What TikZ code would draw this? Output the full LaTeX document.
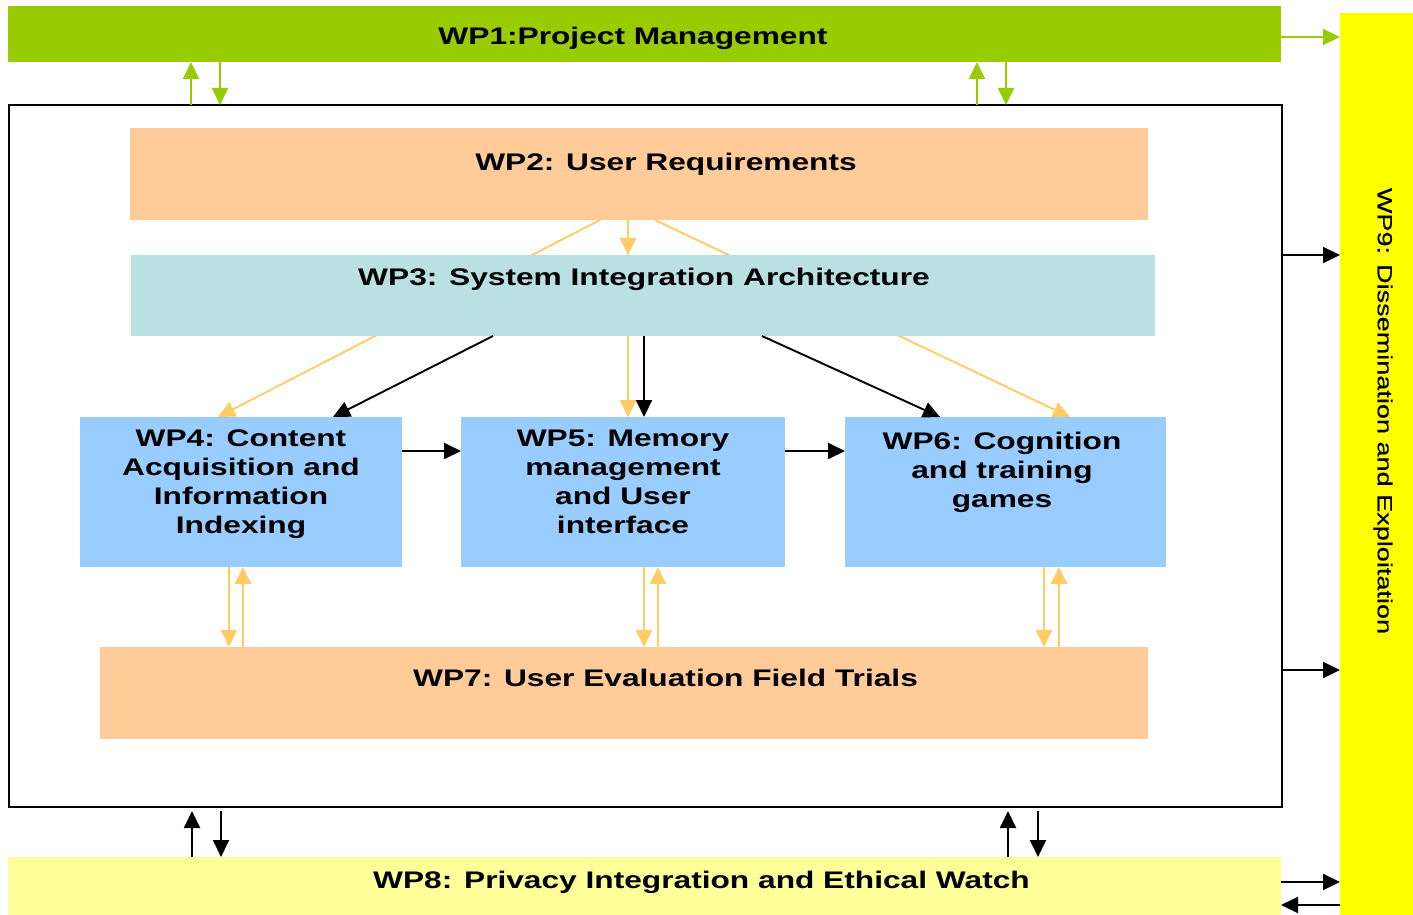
\documentclass[tikz,border=0pt]{standalone}
\usepackage{fontspec}
\setmainfont{Liberation Sans}
\newfontfamily\wpfont{Liberation Sans}[FakeStretch=1.32]
\newfontfamily\wpninefont{Liberation Sans}[FakeStretch=1.32,FakeBold=0.4]
\usetikzlibrary{arrows.meta}
\definecolor{wpgreen}{HTML}{99CC00}
\definecolor{wppeach}{HTML}{FFCC99}
\definecolor{wpteal}{HTML}{B9E0E3}
\definecolor{wpblue}{HTML}{99CCFF}
\definecolor{wplyellow}{HTML}{FFFF99}
\definecolor{wpyellow}{HTML}{FFFF00}
\definecolor{wporange}{HTML}{FFCC66}
\begin{document}
\begin{tikzpicture}[x=1pt,y=-1pt,
  box/.style={draw=none,inner sep=0pt,outer sep=0pt,anchor=north west},
  lbl/.style={font=\wpfont\bfseries\fontsize{24}{29}\selectfont,inner sep=0pt,align=center},
  arr/.style={line width=1.9pt,-{Triangle[length=17pt,width=16pt]}},
  garr/.style={arr,draw=wpgreen},
  oarr/.style={arr,draw=wporange},
  barr/.style={arr,draw=black}]
\useasboundingbox (0,0) rectangle (1413,915);
\fill[white] (0,0) rectangle (1413,915);

% boxes
\node[box,fill=wpgreen,minimum width=1273pt,minimum height=56pt] (wp1) at (8,6) {};
\node[box,fill=wpyellow,minimum width=73pt,minimum height=902pt] (wp9) at (1340,13) {};
\node[box,draw=black,line width=2.5pt,minimum width=1273pt,minimum height=702pt] (outer) at (9,105) {};
\node[box,fill=wppeach,minimum width=1018pt,minimum height=92pt] (wp2) at (130,128) {};
\node[box,fill=wpblue,minimum width=322pt,minimum height=150pt] (wp4) at (80,417) {};
\node[box,fill=wpblue,minimum width=324pt,minimum height=150pt] (wp5) at (461,417) {};
\node[box,fill=wpblue,minimum width=321pt,minimum height=150pt] (wp6) at (845,417) {};

% orange lines from WP2 running behind WP3
\draw[oarr] (600,0 |- wp2.south) -- (218,0 |- wp4.north);
\draw[oarr] (655,0 |- wp2.south) -- (1070,0 |- wp6.north);
\draw[oarr] (628,0 |- wp2.south) -- (628,0 |- wp5.north);

\node[box,fill=wpteal,minimum width=1024pt,minimum height=81pt] (wp3) at (131,255) {};
\node[box,fill=wppeach,minimum width=1048pt,minimum height=92pt] (wp7) at (100,647) {};
\node[box,fill=wplyellow,minimum width=1273pt,minimum height=58pt] (wp8) at (8,857) {};

% labels
\node[lbl,anchor=base] (t1) at (633,45) {WP1:Project Management};
\node[lbl,anchor=base] (t2) at (666,170.5) {WP2: User Requirements};
\node[lbl,anchor=base] (t3) at (644,285.5) {WP3: System Integration Architecture};
\node[lbl,anchor=north] (t4) at (241,429.5) {WP4: Content\\Acquisition and\\Information\\Indexing};
\node[lbl,anchor=north] (t5) at (623,429.5) {WP5: Memory\\management\\and User\\interface};
\node[lbl,anchor=north] (t6) at (1002,431.5) {WP6: Cognition\\and training\\games};
\node[lbl,anchor=base] (t7) at (665.5,686.5) {WP7: User Evaluation Field Trials};
\node[lbl,anchor=base] (t8) at (701.5,888.5) {WP8: Privacy Integration and Ethical Watch};
\node[font=\wpninefont\fontsize{20.5}{24}\selectfont,inner sep=0pt,rotate=-90] (t9) at (1383,411) {WP9: Dissemination and Exploitation};

% WP2 -> WP3
\draw[oarr] (628,0 |- wp2.south) -- (628,0 |- wp3.north);
\draw[oarr] (628,0 |- wp3.south) -- (628,0 |- wp5.north);

% WP3 -> WP4/5/6 black
\draw[barr] (493,0 |- wp3.south) -- (333,0 |- wp4.north);
\draw[barr] (644,0 |- wp3.south) -- (644,0 |- wp5.north);
\draw[barr] (762,0 |- wp3.south) -- (940,0 |- wp6.north);

% WP4 -> WP5 -> WP6
\draw[barr] (wp4.east |- 0,451) -- (wp5.west |- 0,451);
\draw[barr] (wp5.east |- 0,451) -- (wp6.west |- 0,451);

% WP4/5/6 <-> WP7
\draw[oarr] (229,0 |- wp4.south) -- (229,0 |- wp7.north);
\draw[oarr] (243,0 |- wp7.north) -- (243,0 |- wp4.south);
\draw[oarr] (644,0 |- wp5.south) -- (644,0 |- wp7.north);
\draw[oarr] (658,0 |- wp7.north) -- (658,0 |- wp5.south);
\draw[oarr] (1044,0 |- wp6.south) -- (1044,0 |- wp7.north);
\draw[oarr] (1059,0 |- wp7.north) -- (1059,0 |- wp6.south);

% WP1 <-> outer box
\draw[garr] (191,0 |- outer.north) -- (191,0 |- wp1.south);
\draw[garr] (220,0 |- wp1.south) -- (220,0 |- outer.north);
\draw[garr] (977,0 |- outer.north) -- (977,0 |- wp1.south);
\draw[garr] (1006,0 |- wp1.south) -- (1006,0 |- outer.north);

% outer box <-> WP8
\draw[barr,shorten >=4pt] (192,0 |- wp8.north) -- (192,0 |- outer.south);
\draw[barr,shorten <=4pt] (221,0 |- outer.south) -- (221,0 |- wp8.north);
\draw[barr,shorten >=4pt] (1008,0 |- wp8.north) -- (1008,0 |- outer.south);
\draw[barr,shorten <=4pt] (1038,0 |- outer.south) -- (1038,0 |- wp8.north);

% to WP9
\draw[garr] (wp1.east |- 0,37) -- (wp9.west |- 0,37);
\draw[barr] (outer.east |- 0,255) -- (wp9.west |- 0,255);
\draw[barr] (outer.east |- 0,670) -- (wp9.west |- 0,670);
\draw[barr] (wp8.east |- 0,882) -- (wp9.west |- 0,882);
\draw[barr] (wp9.west |- 0,905) -- (wp8.east |- 0,905);
\end{tikzpicture}
\end{document}
